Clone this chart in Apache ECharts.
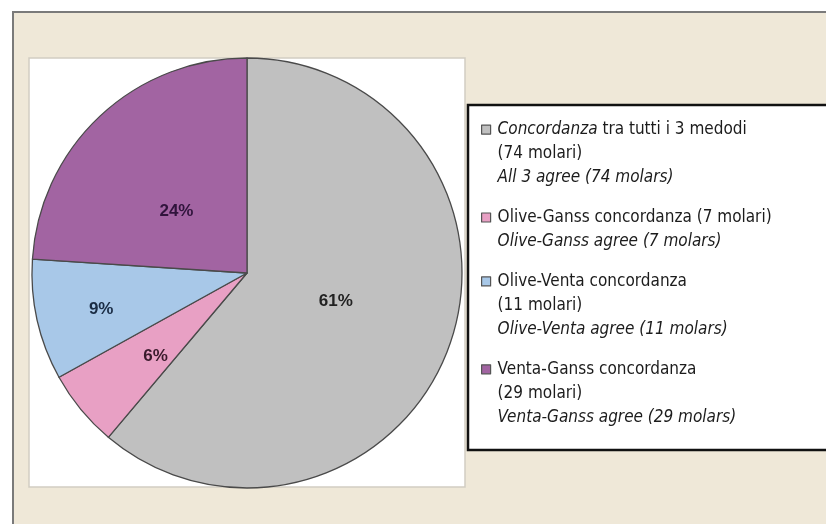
<!DOCTYPE html>
<html>
<head>
<meta charset="utf-8">
<script src="https://cdn.jsdelivr.net/npm/echarts@6/dist/echarts.min.js"></script>
<style>
  html, body { margin: 0; padding: 0; background: #ffffff; }
  #chart { width: 826px; height: 524px; }
</style>
</head>
<body>
<div id="chart"></div>
<script>
// ---- data ----
const categories = [
  'Concordanza tra tutti i 3 medodi',
  'Olive-Ganss concordanza',
  'Olive-Venta concordanza',
  'Venta-Ganss concordanza'
];
const molars = [74, 7, 11, 29];
const legendTexts = [
  '{i|Concordanza} tra tutti i 3 medodi\n(74 molari)\n{i|All 3 agree (74 molars)}',
  'Olive-Ganss concordanza (7 molari)\n{i|Olive-Ganss agree (7 molars)}',
  'Olive-Venta concordanza\n(11 molari)\n{i|Olive-Venta agree (11 molars)}',
  'Venta-Ganss concordanza\n(29 molari)\n{i|Venta-Ganss agree (29 molars)}'
];
const legendLineCounts = [3, 2, 3, 3];

// ---- styles ----
const sliceColors = ['#c0c0c0', '#e8a0c4', '#a8c8e8', '#a264a2'];
const labelColors = ['#222222', '#3a1a2c', '#1a2c44', '#30143c'];
const labelOffsets = [[-15, -10], [-6, 13], [-38, 12], [5, 19]];
const icon3 = 'path://M0,0 M12,72 M1,7.5 h9 v9 h-9 Z';
const icon2 = 'path://M0,12 M12,60 M1,19.5 h9 v9 h-9 Z';
const legendFont = '"Liberation Sans Narrow", "DejaVu Sans Condensed", "Roboto Condensed", sans-serif';

const chart = echarts.init(document.getElementById('chart'), null, { renderer: 'canvas' });

const option = {
  animation: false,
  backgroundColor: '#ffffff',
  graphic: [
    {
      type: 'rect', z: 0, silent: true,
      shape: { x: 13, y: 12, width: 900, height: 600 },
      style: { fill: '#efe8d8', stroke: '#7a7a7a', lineWidth: 2 }
    },
    {
      type: 'rect', z: 0, silent: true,
      shape: { x: 29, y: 58, width: 436, height: 429 },
      style: { fill: '#ffffff', stroke: '#d2cdc2', lineWidth: 1.5 }
    }
  ],
  legend: {
    orient: 'vertical',
    left: 468,
    top: 105,
    padding: [12, 120, 20, 12],
    itemGap: 14.7,
    itemWidth: 12,
    itemHeight: 72,
    selectedMode: false,
    backgroundColor: '#ffffff',
    borderColor: '#111111',
    borderWidth: 2.5,
    itemStyle: { borderColor: '#555555', borderWidth: 1.2 },
    data: categories.map((c, i) => ({ name: c, icon: legendLineCounts[i] === 3 ? icon3 : icon2 })),
    formatter: function (name) { return legendTexts[categories.indexOf(name)]; },
    textStyle: {
      fontFamily: legendFont,
      fontSize: 17,
      lineHeight: 24,
      color: '#1c1c1c',
      rich: {
        i: { fontFamily: legendFont, fontSize: 17, lineHeight: 24, fontStyle: 'italic', color: '#1c1c1c' }
      }
    }
  },
  series: [{
    type: 'pie',
    center: [247, 273],
    radius: 215,
    startAngle: 90,
    clockwise: true,
    percentPrecision: 0,
    silent: true,
    itemStyle: { borderColor: '#4a4a4a', borderWidth: 1.3 },
    label: {
      show: true,
      position: 'inside',
      formatter: '{d}%',
      fontFamily: 'Liberation Sans, Arial, sans-serif',
      fontWeight: 'bold',
      fontSize: 17
    },
    labelLayout: function (params) {
      const o = labelOffsets[params.dataIndex];
      return { dx: o[0], dy: o[1] };
    },
    labelLine: { show: false },
    emphasis: { disabled: true },
    data: categories.map((c, i) => ({
      name: c,
      value: molars[i],
      itemStyle: { color: sliceColors[i] },
      label: { color: labelColors[i] }
    }))
  }]
};

chart.setOption(option);
</script>
</body>
</html>
